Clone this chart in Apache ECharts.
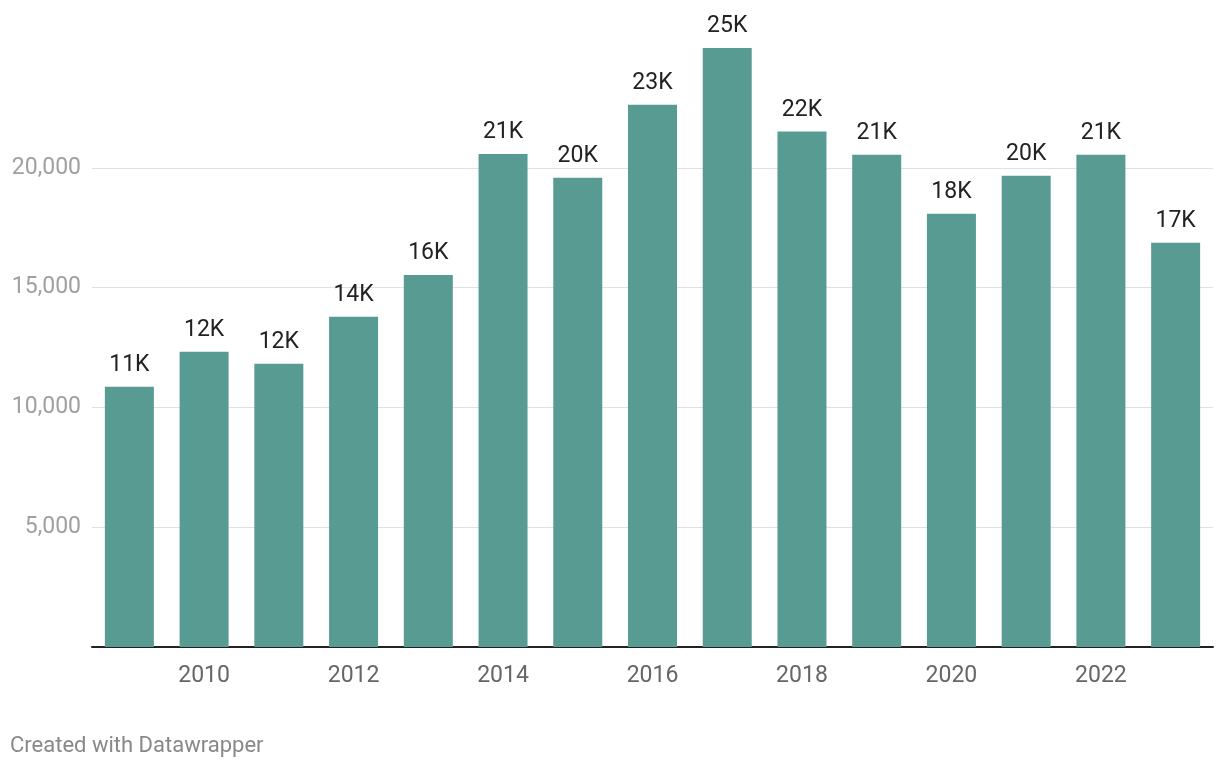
<!DOCTYPE html>
<html lang="en">
  <head>
    <meta charset="UTF-8" />
    <title>Chart</title>
    <style>
      html, body { margin: 0; padding: 0; background: #fff; }
    </style>
  </head>
  <body>
    <div id="main" style="width: 1220px; height: 770px"></div>

    <script src="https://cdn.jsdelivr.net/npm/echarts@6/dist/echarts.min.js"></script>
    <script>
      // ===== data =====
      const years = ['2009', '2010', '2011', '2012', '2013', '2014', '2015', '2016',
        '2017', '2018', '2019', '2020', '2021', '2022', '2023']
      const values = [10860, 12320, 11820, 13780, 15530, 20580, 19580, 22630,
        25000, 21520, 20540, 18080, 19670, 20540, 16870]
      const yTicks = [0, 5000, 10000, 15000, 20000, 25000]
      // ===== data =====

      window.onload = function () {
        const myChart = echarts.init(document.getElementById('main'))
        const font = 'Roboto'

        const option = {
          backgroundColor: '#ffffff',
          animation: false,
          grid: { left: 92, right: 7, top: 48, bottom: 123 },
          xAxis: {
            type: 'category',
            data: years,
            axisLine: { lineStyle: { color: '#222222', width: 2 } },
            axisTick: { show: false },
            axisLabel: {
              interval: (index) => index % 2 === 1,
              color: '#666666',
              fontFamily: font,
              fontSize: 23,
              margin: 18
            }
          },
          yAxis: {
            type: 'value',
            min: yTicks[0],
            max: yTicks[yTicks.length - 1],
            interval: 5000,
            axisLine: { show: false },
            axisTick: { show: false },
            splitLine: {
              lineStyle: {
                // hide the top (25,000) line, keep the others
                color: yTicks.map(t => (t === 25000 ? 'rgba(0,0,0,0)' : '#e0e0e0')),
                width: 1
              }
            },
            axisLabel: {
              margin: 11,
              color: '#a0a0a0',
              fontFamily: font,
              fontSize: 23,
              formatter: function (v) {
                if (v === 0 || v === 25000) return ''
                return v.toLocaleString('en-US')
              }
            }
          },
          series: [
            {
              type: 'bar',
              data: values,
              barWidth: 49,
              itemStyle: { color: '#589b92' },
              label: {
                show: true,
                position: 'top',
                distance: 10,
                color: '#222222',
                fontFamily: font,
                fontSize: 23,
                formatter: p => Math.round(p.value / 1000) + 'K'
              }
            }
          ],
          graphic: [
            {
              type: 'text',
              left: 10,
              top: 735,
              style: {
                text: 'Created with Datawrapper',
                fill: '#888888',
                font: '22px Roboto'
              }
            }
          ]
        }

        myChart.setOption(option)
      }
    </script>
  </body>
</html>
